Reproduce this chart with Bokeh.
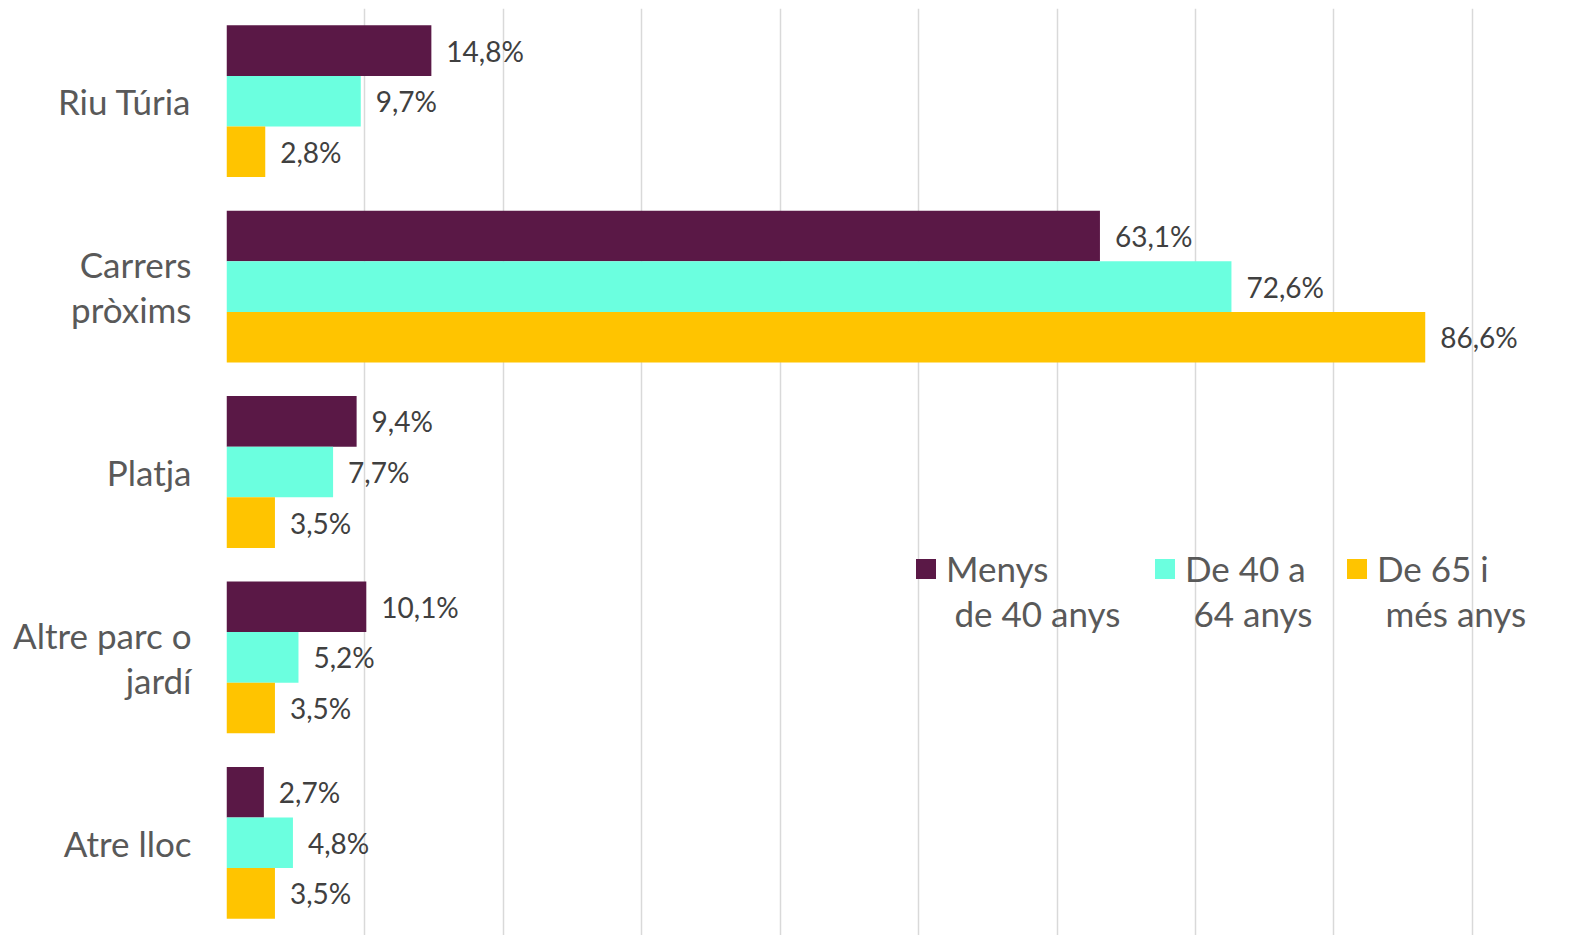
from bokeh.plotting import figure
from bokeh.models import (ColumnDataSource, FactorRange, Range1d, LabelSet, Legend,
                          LegendItem, FixedTicker, Label)
from bokeh.core.properties import value
from bokeh.transform import dodge
from bokeh.embed import file_html
from bokeh.resources import INLINE

categories = ["Riu Túria", "Carrers\npròxims", "Platja", "Altre parc o\njardí", "Atre lloc"]
series_first = ["Menys", "De 40 a", "De 65 i"]
series_second = ["de 40 anys", "64 anys", "més anys"]
menys_40 = [14.8, 63.1, 9.4, 10.1, 2.7]
de_40_64 = [9.7, 72.6, 7.7, 5.2, 4.8]
de_65 = [2.8, 86.6, 3.5, 3.5, 3.5]
x_ticks = [0, 10, 20, 30, 40, 50, 60, 70, 80, 90]

colors = ["#5A1846", "#6BFFDF", "#FFC400"]
FONT = "Lato"

def fmt(v):
    return f"{v:.1f}%".replace(".", ",")

p = figure(width=1595, height=935, output_backend="svg", toolbar_location=None,
           y_range=FactorRange(factors=list(reversed(categories))),
           x_range=Range1d(0, 98.9),
           min_border_left=226, min_border_right=0, min_border_top=8, min_border_bottom=0)
p.outline_line_color = None
p.background_fill_color = "white"
p.border_fill_color = "white"

bar_h = 0.273
offsets = [bar_h, 0.0, -bar_h]
renderers = []
for vals, col, off in zip([menys_40, de_40_64, de_65], colors, offsets):
    src = ColumnDataSource(dict(cat=categories, val=vals, lab=[fmt(v) for v in vals]))
    r = p.hbar(y=dodge("cat", off, range=p.y_range), right="val", left=0, height=bar_h,
               source=src, fill_color=col, line_color=None)
    renderers.append(r)
    ls = LabelSet(x="val", y=dodge("cat", off, range=p.y_range), text="lab", source=src,
                  x_offset=15, text_align="left", text_baseline="middle",
                  text_font=value(FONT), text_font_size="28px", text_color="#404040")
    p.add_layout(ls)

p.xaxis.visible = False
p.xgrid.ticker = FixedTicker(ticks=x_ticks)
p.xgrid.grid_line_color = "#D9D9D9"
p.xgrid.grid_line_width = 1.5
p.ygrid.grid_line_color = None

ax = p.yaxis[0]
ax.axis_line_color = None
ax.major_tick_line_color = None
ax.minor_tick_line_color = None
ax.major_tick_out = 0
ax.major_tick_in = 0
ax.major_label_text_font = FONT
ax.major_label_text_font_size = "35px"
ax.major_label_text_color = "#595959"
ax.major_label_text_line_height = 1.08
ax.major_label_standoff = 35

legend_x = [687, 926, 1118]
second_x = [728, 967, 1159]
for first, second, r, lx, sx in zip(series_first, series_second, renderers, legend_x, second_x):
    lg = Legend(items=[LegendItem(label=first, renderers=[r])],
                location=(lx, 346),
                label_text_font=FONT, label_text_font_size="35px", label_text_color="#595959",
                glyph_width=25, glyph_height=25, label_standoff=8,
                padding=0, margin=0, border_line_color=None, background_fill_alpha=0)
    p.add_layout(lg)
    p.add_layout(Label(x=sx, y=323, x_units="screen", y_units="screen", text=second,
                       text_font=FONT, text_font_size="35px", text_color="#595959",
                       text_baseline="middle", text_align="left"))

open("out.html", "w").write(file_html(p, INLINE))
